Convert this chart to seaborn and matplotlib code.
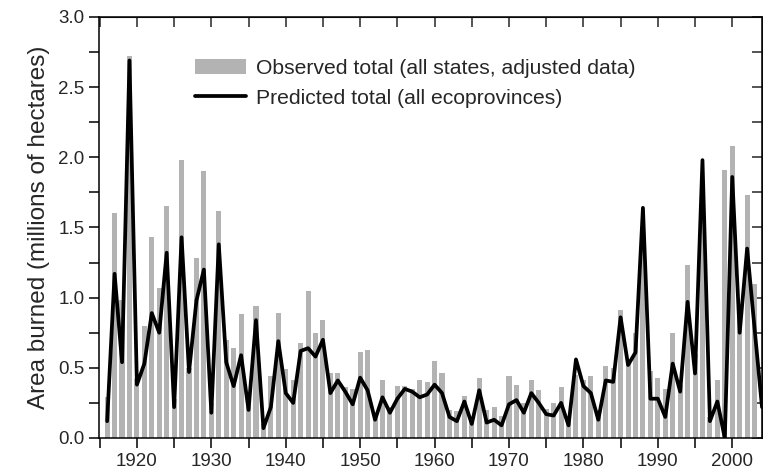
import matplotlib
matplotlib.use("Agg")
import matplotlib.pyplot as plt
import seaborn as sns
from matplotlib.lines import Line2D
from matplotlib.patches import Patch
from matplotlib.ticker import MultipleLocator

# Area burned per year (millions of hectares)
years_obs = list(range(1916, 2004))
observed = [
    0.29, 1.60, 0.98, 2.72, 0.42, 0.80, 1.43, 1.07, 1.65, 0.28,  # 1916-1925
    1.98, 0.50, 1.28, 1.90, 0.25, 1.62, 0.70, 0.64, 0.88, 0.25,  # 1926-1935
    0.94, 0.10, 0.44, 0.89, 0.49, 0.41, 0.68, 1.05, 0.75, 0.84,  # 1936-1945
    0.46, 0.46, 0.36, 0.35, 0.61, 0.63, 0.18, 0.41, 0.22, 0.37,  # 1946-1955
    0.37, 0.35, 0.41, 0.40, 0.55, 0.46, 0.20, 0.19, 0.30, 0.15,  # 1956-1965
    0.43, 0.20, 0.22, 0.16, 0.44, 0.38, 0.25, 0.41, 0.34, 0.21,  # 1966-1975
    0.25, 0.36, 0.15, 0.45, 0.41, 0.44, 0.20, 0.51, 0.50, 0.91,  # 1976-1985
    0.55, 0.75, 1.40, 0.48, 0.43, 0.35, 0.75, 0.38, 1.23, 0.60,  # 1986-1995
    1.75, 0.15, 0.41, 1.91, 2.08, 0.95, 1.73, 1.10,              # 1996-2003
]

years_pred = list(range(1916, 2005))
predicted = [
    0.12, 1.17, 0.54, 2.69, 0.38, 0.53, 0.89, 0.75, 1.32, 0.22,  # 1916-1925
    1.43, 0.47, 0.98, 1.20, 0.18, 1.38, 0.54, 0.37, 0.59, 0.20,  # 1926-1935
    0.84, 0.07, 0.22, 0.69, 0.32, 0.25, 0.62, 0.64, 0.58, 0.70,  # 1936-1945
    0.32, 0.41, 0.33, 0.24, 0.43, 0.34, 0.13, 0.29, 0.18, 0.28,  # 1946-1955
    0.35, 0.33, 0.29, 0.31, 0.38, 0.32, 0.15, 0.12, 0.26, 0.10,  # 1956-1965
    0.34, 0.11, 0.13, 0.09, 0.24, 0.27, 0.18, 0.32, 0.25, 0.17,  # 1966-1975
    0.16, 0.25, 0.09, 0.56, 0.37, 0.32, 0.13, 0.41, 0.40, 0.86,  # 1976-1985
    0.52, 0.61, 1.64, 0.28, 0.28, 0.15, 0.53, 0.33, 0.97, 0.46,  # 1986-1995
    1.98, 0.12, 0.26, 0.00, 1.86, 0.75, 1.35, 0.78, 0.22,        # 1996-2004
]

legend_labels = ["Observed total (all states, adjusted data)",
                 "Predicted total (all ecoprovinces)"]

sns.set_style("ticks")
plt.rcParams["font.family"] = ["Liberation Sans", "DejaVu Sans"]

fig = plt.figure(figsize=(7.63, 4.69), dpi=100)
ax = fig.add_axes([0.1297, 0.0661, 0.8690, 0.8977])

bar_color = "#b3b3b3"
sns.barplot(x=years_obs, y=observed, native_scale=True, width=0.68,
            color=bar_color, saturation=1, linewidth=0, ax=ax)
sns.lineplot(x=years_pred, y=predicted, color="black", linewidth=2.7, ax=ax)

ax.set_xlim(1914.9, 2004.0)
ax.set_ylim(0, 3.0)

ax.xaxis.set_major_locator(MultipleLocator(10))
ax.xaxis.set_minor_locator(MultipleLocator(5))
ax.yaxis.set_major_locator(MultipleLocator(0.5))
ax.yaxis.set_minor_locator(MultipleLocator(0.25))
ax.yaxis.set_major_formatter(matplotlib.ticker.FormatStrFormatter("%.1f"))
ax.tick_params(which="both", direction="out", length=7, width=1.1,
               labelsize=13.5, color="black")
ax.set_xlim(1914.9, 2004.0)

# inward ticks on top and right
top = ax.secondary_xaxis("top")
top.xaxis.set_major_locator(MultipleLocator(5))
top.tick_params(direction="in", length=7, width=1.1, labeltop=False)
right = ax.secondary_yaxis("right")
right.yaxis.set_major_locator(MultipleLocator(0.25))
right.tick_params(direction="in", length=7, width=1.1, labelright=False)

for s in ax.spines.values():
    s.set_linewidth(1.1)
    s.set_color("black")

ax.set_xlabel("")
ax.set_ylabel("Area burned (millions of hectares)", fontsize=17.5, labelpad=6)

handles = [Patch(facecolor=bar_color, edgecolor="none"),
           Line2D([0], [0], color="black", linewidth=2.7)]
ax.legend(handles, legend_labels, loc="upper left",
          bbox_to_anchor=(0.145, 0.90), frameon=False, fontsize=15.2,
          handlelength=2.4, handletextpad=0.5, labelspacing=0.5,
          borderpad=0, borderaxespad=0)

fig.savefig("out.png", dpi=100)
